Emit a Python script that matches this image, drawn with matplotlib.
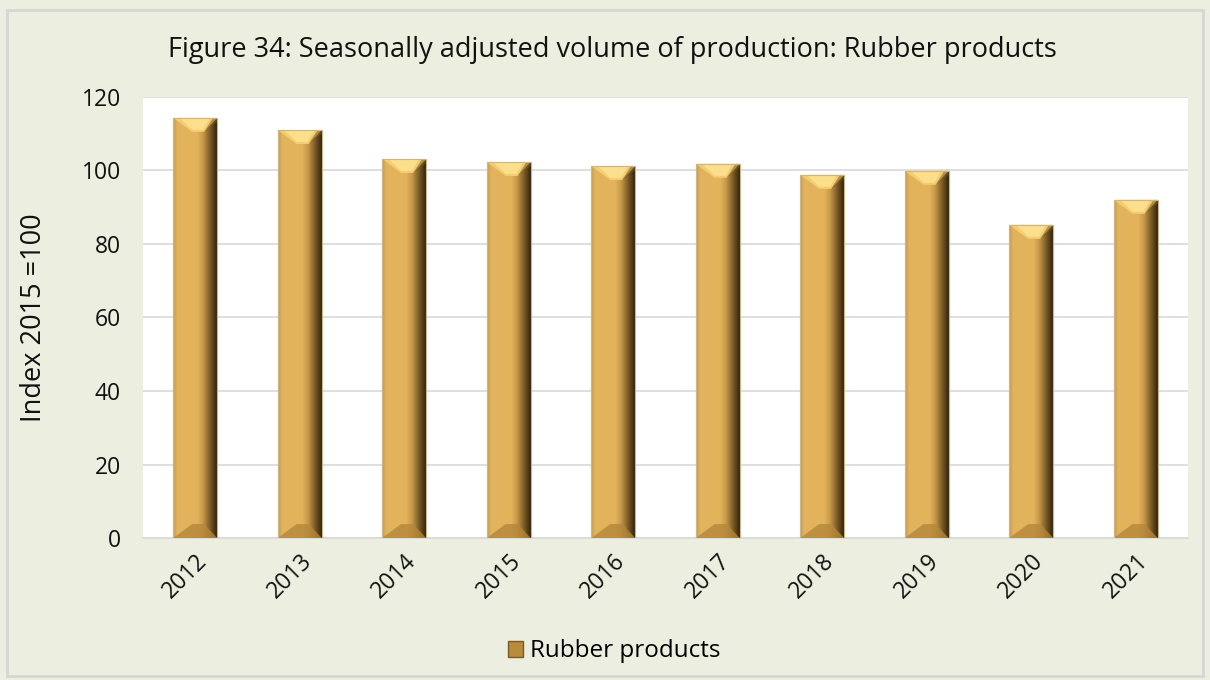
import matplotlib.pyplot as plt
import numpy as np
from matplotlib.patches import Polygon, Rectangle, Patch
from matplotlib.colors import LinearSegmentedColormap

years = ['2012', '2013', '2014', '2015', '2016', '2017', '2018', '2019', '2020', '2021']
rubber = [114.3, 111.0, 103.1, 102.3, 101.2, 101.8, 98.8, 99.9, 85.2, 92.0]

plt.rcParams['font.family'] = ['Open Sans', 'DejaVu Sans']
bg = '#ECEFDF'

fig = plt.figure(figsize=(12.1, 6.8), dpi=100, facecolor=bg)
ax = fig.add_axes([0.1182, 0.2088, 0.8636, 0.6486])
ax.set_facecolor('white')

# frame round the whole chart
fig.patches.append(Rectangle((7 / 1210, 4 / 680), 1196 / 1210, 666 / 680, transform=fig.transFigure,
                             fill=False, edgecolor='#D6D6D6', linewidth=2))

x = np.arange(len(years))
w = 0.42
bars = ax.bar(x, rubber, width=w, color='#E2B25A', edgecolor='#CDB88A', linewidth=0.8, zorder=2)

# bevel look: horizontal shading plus chamfered top and bottom
shade = LinearSegmentedColormap.from_list('shade', [
    (0.0, '#C99C4B'), (0.1, '#E2B45E'), (0.55, '#E4B35B'),
    (0.68, '#C89A4A'), (0.85, '#7A5A26'), (1.0, '#33250C')])
grad = np.linspace(0, 1, 200).reshape(1, -1)
bl = 0.18    # left bevel width
br = 0.125   # right bevel width
by = 3.8     # bevel height in data units
for b, h in zip(bars, rubber):
    x0 = b.get_x()
    x1 = x0 + b.get_width()
    im = ax.imshow(grad, cmap=shade, aspect='auto', extent=[x0, x1, 0, h], zorder=3)
    im.set_clip_path(b)
    # top facet
    ax.add_patch(Polygon([(x0, h), (x1, h), (x1 - br, h - by), (x0 + bl, h - by)],
                         closed=True, facecolor='#F4CD70', edgecolor='none', zorder=4))
    ax.add_patch(Polygon([(x0 + 0.06, h), (x1 - 0.07, h), (x1 - br - 0.01, h - by * 0.85), (x0 + bl, h - by * 0.85)],
                         closed=True, facecolor='#FCDF8C', edgecolor='none', zorder=4))
    ax.add_patch(Polygon([(x1 - 0.04, h), (x1, h), (x1, h - 1.0), (x1 - br, h - by)],
                         closed=True, facecolor='#7A5A26', edgecolor='none', alpha=0.55, zorder=4))
    # bottom facet
    ax.add_patch(Polygon([(x0, 0), (x1, 0), (x1 - br, by), (x0 + bl, by)],
                         closed=True, facecolor='#B4873A', edgecolor='none', alpha=0.8, zorder=4))
    ax.add_patch(Rectangle((x0, 0), x1 - x0, h, fill=False, edgecolor='#CBB58A', linewidth=0.8, zorder=5))

ax.set_xlim(-0.5, len(years) - 0.5)
ax.set_ylim(0, 120)
ax.set_yticks(np.arange(0, 121, 20))
ax.set_xticks(x)
ax.set_xticklabels(years, rotation=45, ha='right', rotation_mode='anchor')
ax.tick_params(axis='both', length=0, labelsize=16.5, colors='#111111')
ax.tick_params(axis='x', pad=8)
ax.tick_params(axis='y', pad=16)
ax.yaxis.grid(True, color='#D9D9D9', linewidth=1.2, zorder=0)
ax.set_axisbelow(True)
for s in ['top', 'right', 'left']:
    ax.spines[s].set_visible(False)
ax.spines['bottom'].set_color('#D9D9D9')
ax.spines['bottom'].set_linewidth(1.2)

ax.set_ylabel('Index 2015 =100', fontsize=19.5, color='#111111', labelpad=24)
fig.text(0.506, 0.926, 'Figure 34: Seasonally adjusted volume of production: Rubber products',
         ha='center', va='center', fontsize=19.5, color='#111111')

handle = Patch(facecolor='#B98B3C', edgecolor='#7A5A26')
fig.legend([handle], ['Rubber products'], loc='center', bbox_to_anchor=(0.508, 0.042),
           frameon=False, fontsize=17.5, handlelength=0.6, handleheight=0.6, handletextpad=0.3)

fig.savefig('out.png', dpi=100, facecolor=bg)
